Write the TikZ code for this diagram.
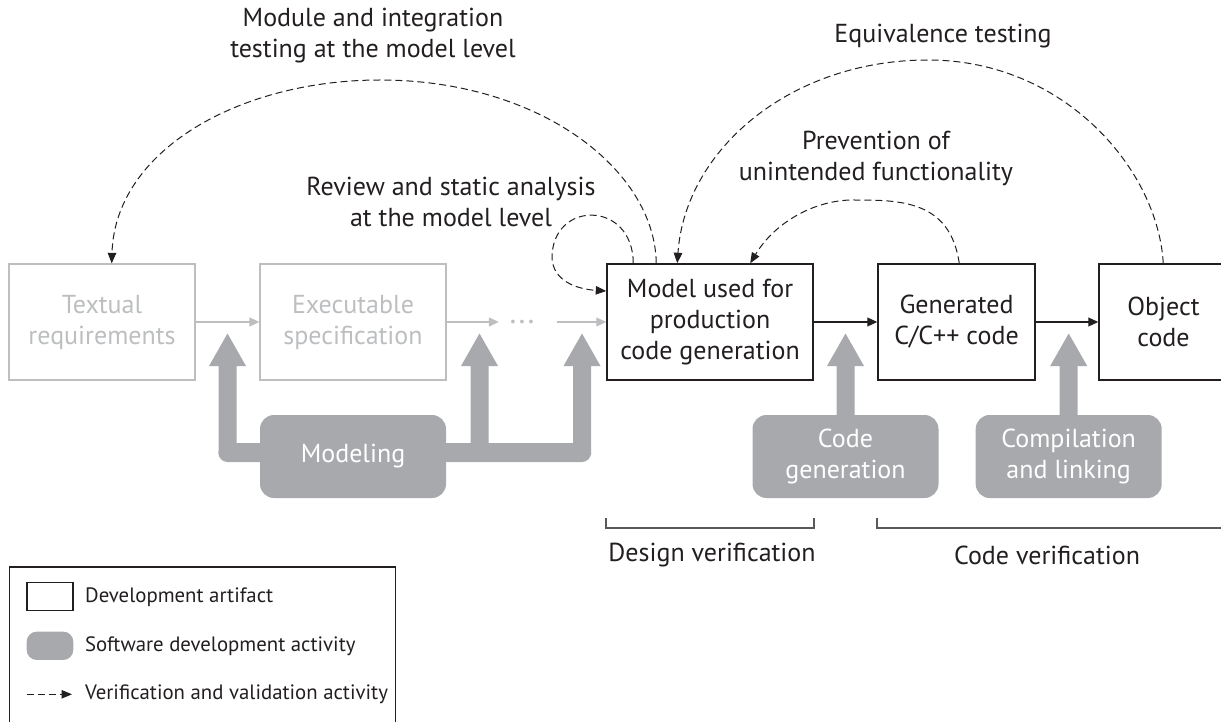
\documentclass[tikz,border=0pt]{standalone}
\usepackage{fontspec}
\setmainfont{PT Sans}
\usetikzlibrary{arrows.meta,calc}
\definecolor{ink}{HTML}{231F20}
\definecolor{actgray}{HTML}{A7A9AC}
\definecolor{faded}{HTML}{BCBEC0}
\definecolor{brk}{HTML}{58595B}
\newcommand\bx{\fontsize{26}{31}\selectfont}
\newcommand\lgf{\fontsize{20.8}{24}\selectfont}
\newcommand\thickup[2]{%
  \fill[actgray] (#1-9,#2) -- (#1-9,366) -- (#1-18.5,366) -- (#1,333.5) -- (#1+18.5,366) -- (#1+9,366) -- (#1+9,#2) -- cycle;}
\tikzset{
  art/.style={draw=ink, line width=1.5pt, fill=white, text=ink, align=center, inner sep=0pt, minimum height=116pt, font=\bx},
  fart/.style={draw=faded, line width=1.3pt, text=faded, align=center, inner sep=0pt, minimum height=116pt, font=\bx},
  act/.style={fill=actgray, rounded corners=14pt, text=white, align=center, inner sep=0pt, minimum height=83pt, font=\bx},
  vv/.style={draw=ink, line width=1pt, dash pattern=on 7pt off 4pt, -{Triangle[length=10.5pt,width=8.5pt]}},
  flow/.style={draw=ink, line width=1.2pt, -{Triangle[length=10pt,width=9pt]}},
  fflow/.style={draw=faded, line width=1.2pt, -{Triangle[length=10pt,width=9pt]}},
  lbl/.style={text=ink, align=center, inner sep=0pt, font=\bx},
  lgtext/.style={text=ink, anchor=west, inner sep=0pt, font=\lgf},
  brkline/.style={draw=brk, line width=1.4pt},
}
\begin{document}
\begin{tikzpicture}[x=1pt,y=-1pt]
\useasboundingbox (0,0) rectangle (1221,722);

% thick activity arrows
\fill[actgray, rounded corners=9pt] (218.5,443) rectangle (591,462);
\thickup{227.5}{455}
\thickup{479.5}{450}
\thickup{582}{455}
\thickup{845.5}{420}
\thickup{1068.7}{420}

% artifacts
\node[fart, minimum width=186pt] (treq) at (102,322) {Textual\\requirements};
\node[fart, minimum width=186pt] (espec) at (353,322) {Executable\\specification};
\node[text=faded, inner sep=0pt, minimum width=46pt, font=\fontsize{32}{32}\selectfont] (dots) at (522,322) {...};
\node[art, minimum width=206pt] (model) at (710,322) {Model used for\\production\\code generation};
\node[art, minimum width=157pt] (gen) at (956.5,322) {Generated\\C/C++ code};
\node[art, minimum width=129pt] (obj) at (1163.5,322) {Object\\code};

% activities
\node[act, minimum width=186pt] (modeling) at (353,456.5) {Modeling};
\node[act, minimum width=186pt] (cgen) at (845.5,456.5) {Code\\generation};
\node[act, minimum width=186pt] (comp) at (1068.7,456.5) {Compilation\\and linking};

% flow
\draw[fflow] (treq) -- (espec);
\draw[fflow] (espec.east) -- (dots.west);
\draw[fflow, shorten <=12pt] (dots.east) -- (model.west);
\draw[flow] (model) -- (gen);
\draw[flow] (gen) -- (obj);

% verification curves
\draw[vv] ($(model.north west)+(50,0)$) .. controls (655,170) and (540,80) .. (380,80) .. controls (240,80) and (115,150) .. ($(treq.north)+(9.7,0)$);
\draw[vv] ($(model.north west)+(27,0)$) .. controls (633,200) and (552,200) .. (552,258) .. controls (553,280) and (575,289) .. ($(model.west)+(0,-31)$);
\draw[vv] ($(obj.north west)+(65,0)$) .. controls (1158,170) and (1065,60) .. (928,60) .. controls (790,60) and (685,150) .. ($(model.north west)+(71,0)$);
\draw[vv] ($(gen.north west)+(82,0)$) .. controls (950,200) and (900,200) .. (853,200) .. controls (815,200) and (775,222) .. ($(model.north west)+(144,0)$);

% labels
\node[lbl] (lmod) at (373,35.5) {Module and integration\\testing at the model level};
\node[lbl] (leq) at (943,36) {Equivalence testing};
\node[lbl] (lrev) at (451,202) {Review and static analysis\\at the model level};
\node[lbl] (lprev) at (876,158) {Prevention of\\unintended functionality};

% brackets
\draw[brkline] (606,518) -- (606,528) -- (814,528) -- (814,518);
\draw[brkline] (877,518) -- (877,528) -- (1225,528);
\node[lbl] (dv) at (712,555) {Design verification};
\node[lbl] (cv) at (1047,555) {Code verification};

% legend
\draw[ink, line width=1.2pt] (9.5,735) -- (9.5,567) -- (395.5,567) -- (395.5,735);
\node[draw=ink, line width=1.2pt, minimum width=46pt, minimum height=28pt, inner sep=0pt] (lgart) at (50,596.7) {};
\node[fill=actgray, rounded corners=10pt, minimum width=46.6pt, minimum height=28.3pt, inner sep=0pt] (lgact) at (50,645.8) {};
\coordinate (lgs) at (26.7,694.3);
\coordinate (lge) at (72,694.3);
\draw[vv] (lgs) -- (lge);
\node[lgtext] (t1) at (85,597) {Development artifact};
\node[lgtext] (t2) at (85,646) {Software development activity};
\node[lgtext] (t3) at (85,694) {Verification and validation activity};
\end{tikzpicture}
\end{document}
